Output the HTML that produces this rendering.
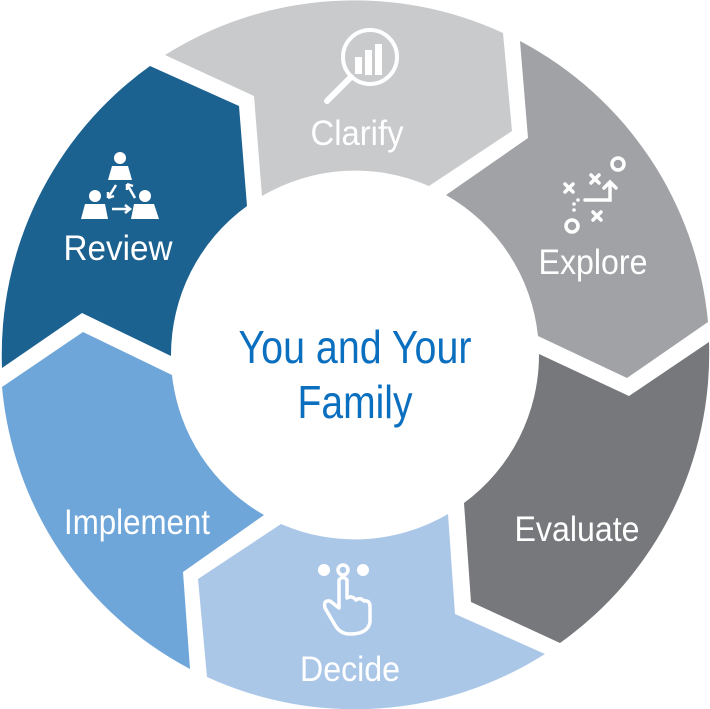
<!DOCTYPE html>
<html><head><meta charset="utf-8"><style>
html,body{margin:0;padding:0;background:#fff;width:710px;height:709px;overflow:hidden}
svg{display:block}
text{font-family:"Liberation Sans Narrow","Liberation Sans",sans-serif;fill:#fff}
</style></head><body>
<svg width="710" height="709" viewBox="0 0 710 709" xmlns="http://www.w3.org/2000/svg">
<path fill="#c9cacc" d="M165,55 L254,96 L262,196 A184,184 0 0 1 429,186 L512,131 L503,33 A355,355 0 0 0 165,55 Z"/>
<path fill="#a1a2a5" d="M520,41 L528,138 L446,195 A184,184 0 0 1 538,336 L627,378 L708,322 A355,355 0 0 0 520,41 Z"/>
<path fill="#77787b" d="M709,342 L629,396 L539,354 A184,184 0 0 1 464,503 L471,602 L560,643 A355,355 0 0 0 709,342 Z"/>
<path fill="#abc7e8" d="M545,654 L455,614 L448,514 A184,184 0 0 1 281,524 L198,579 L207,677 A355,355 0 0 0 545,654 Z"/>
<path fill="#6fa6d9" d="M190,669 L183,572 L264,515 A184,184 0 0 1 172,375 L83,332 L2,387 A355,355 0 0 0 190,669 Z"/>
<path fill="#1c6291" d="M2,368 L82,313 L171,356 A184,184 0 0 1 247,206 L239,106 L150,66 A355,355 0 0 0 2,368 Z"/>

<text x="357" y="145" font-size="35" text-anchor="middle" textLength="93" lengthAdjust="spacingAndGlyphs">Clarify</text>
<text x="593" y="274" font-size="35" text-anchor="middle" textLength="109" lengthAdjust="spacingAndGlyphs">Explore</text>
<text x="577" y="541" font-size="35" text-anchor="middle" textLength="125" lengthAdjust="spacingAndGlyphs">Evaluate</text>
<text x="350" y="681" font-size="35" text-anchor="middle" textLength="100" lengthAdjust="spacingAndGlyphs">Decide</text>
<text x="137" y="534" font-size="35" text-anchor="middle" textLength="146" lengthAdjust="spacingAndGlyphs">Implement</text>
<text x="118" y="260" font-size="35" text-anchor="middle" textLength="109" lengthAdjust="spacingAndGlyphs">Review</text>
<text x="355" y="363" font-size="46" text-anchor="middle" style="fill:#0b6fc0" textLength="233" lengthAdjust="spacingAndGlyphs">You and Your</text>
<text x="355" y="418" font-size="46" text-anchor="middle" style="fill:#0b6fc0" textLength="115" lengthAdjust="spacingAndGlyphs">Family</text>

<g stroke="#fff" fill="none" stroke-width="4">
<circle cx="370" cy="57" r="27"/>
<line x1="351" y1="77" x2="327" y2="101" stroke-width="6" stroke-linecap="round"/>
</g>
<g fill="#fff"><rect x="355" y="57" width="7" height="17"/><rect x="365" y="50" width="7" height="25"/><rect x="375" y="44" width="7" height="31"/></g>

<g stroke="#fff" stroke-width="3.5" fill="none" stroke-linecap="round">
<circle cx="618" cy="164" r="6"/><circle cx="572" cy="226" r="6"/>
<path d="M565,184 l8,8 M573,184 l-8,8"/><path d="M591,175 l8,8 M599,175 l-8,8"/><path d="M593,212 l8,8 M601,212 l-8,8"/>
<path d="M585,200 h25 v-17 M604,188 l6,-6 l6,6"/>
</g>
<g fill="#fff"><circle cx="574" cy="204" r="1.8"/><circle cx="574" cy="210" r="1.8"/><circle cx="578" cy="200" r="1.8"/></g>

<g fill="#fff">
<circle cx="120" cy="158" r="6"/><path d="M108,180 L112,166 H128 L132,180 Z"/>
<circle cx="95" cy="196" r="6"/><path d="M81,219 L85,204 H105 L108,219 Z"/>
<circle cx="145" cy="196" r="6"/><path d="M131,219 L134,204 H154 L159,219 Z"/>
</g>
<g stroke="#fff" stroke-width="2.5" fill="none">
<path d="M116,185 L108,198 M108,198 l0,-6 M108,198 l6,-2"/>
<path d="M127,184 L135,198 M127,184 l0,6 M127,184 l6,2"/>
<path d="M112,209 H130 M125,205 l5,4 l-5,4"/>
</g>

<g fill="#fff"><circle cx="324" cy="570" r="6"/><circle cx="363" cy="570" r="6"/></g>
<g stroke="#fff" stroke-width="3.5" fill="none" stroke-linejoin="round" stroke-linecap="round">
<circle cx="343" cy="570" r="5"/>
<path d="M339,580 V608 L330,601 Q323,600 325,608 L335,625 Q340,634 350,634 Q368,634 370,622 V607 Q370,600 364,601 Q360,597 356,600 Q352,595 347,598 V580 Q343,575 339,580 Z"/>
</g>
</svg>
</body></html>
